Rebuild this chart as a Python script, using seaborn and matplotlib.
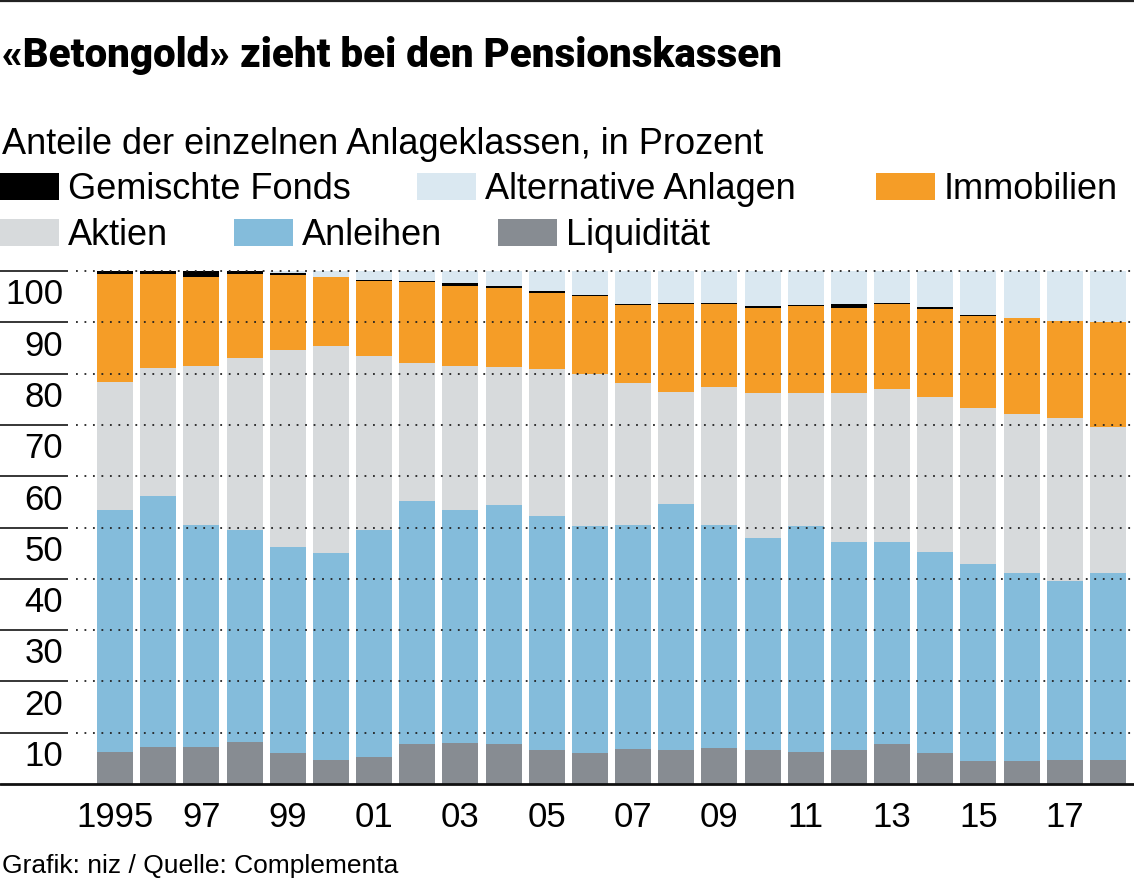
import numpy as np
import pandas as pd
import seaborn as sns
import matplotlib.pyplot as plt
from matplotlib.patches import Rectangle
from matplotlib.lines import Line2D

# Anteile in Prozent, 1995-2018
years = list(range(1995, 2019))
liquiditaet = [6.3, 7.3, 7.3, 8.1, 6.1, 4.7, 5.3, 7.7, 8.0, 7.7, 6.6, 6.1,
               6.9, 6.6, 7.1, 6.6, 6.3, 6.6, 7.7, 6.1, 4.4, 4.4, 4.6, 4.6]
anleihen = [47.1, 48.8, 43.2, 41.4, 40.1, 40.3, 44.2, 47.4, 45.4, 46.7, 45.7, 44.2,
            43.6, 48.0, 43.4, 41.4, 44.0, 40.6, 39.5, 39.1, 38.5, 36.7, 35.0, 36.5]
aktien = [25.0, 24.9, 31.0, 33.5, 38.4, 40.3, 34.0, 27.0, 28.1, 26.9, 28.5, 29.7,
          27.7, 21.8, 26.9, 28.2, 25.9, 29.0, 29.8, 30.2, 30.4, 31.0, 31.7, 28.4]
immobilien = [21.0, 18.4, 17.4, 16.4, 14.7, 13.5, 14.5, 15.8, 15.6, 15.3, 15.0, 15.1,
              15.1, 17.2, 16.2, 16.5, 17.0, 16.6, 16.6, 17.1, 18.0, 18.7, 19.0, 20.5]
gemischte_fonds = [0.6, 0.6, 1.1, 0.6, 0.3, 0.0, 0.2, 0.2, 0.5, 0.5, 0.25, 0.25,
                   0.3, 0.2, 0.2, 0.5, 0.1, 0.7, 0.2, 0.45, 0.2, 0.0, 0.0, 0.0]
alternative = [0.0, 0.0, 0.0, 0.0, 0.4, 1.2, 1.75, 1.9, 2.4, 2.9, 3.95, 4.65,
               6.4, 6.2, 6.2, 6.8, 6.7, 6.5, 6.2, 7.05, 8.5, 9.2, 9.7, 10.0]

tick_years = [1995, 1997, 1999, 2001, 2003, 2005, 2007, 2009, 2011, 2013, 2015, 2017]
tick_labels = ["1995", "97", "99", "01", "03", "05", "07", "09", "11", "13", "15", "17"]
y_ticks = [10, 20, 30, 40, 50, 60, 70, 80, 90, 100]

title = "«Betongold» zieht bei den Pensionskassen"
subtitle = "Anteile der einzelnen Anlageklassen, in Prozent"
source = "Grafik: niz / Quelle: Complementa"

colors = {
    "Liquidität": "#878c92",
    "Anleihen": "#84bcdb",
    "Aktien": "#d7dadc",
    "Immobilien": "#f59d27",
    "Gemischte Fonds": "#000000",
    "Alternative Anlagen": "#dae8f1",
}

df = pd.DataFrame({
    "Jahr": [str(y) for y in years],
    "Liquidität": liquiditaet,
    "Anleihen": anleihen,
    "Aktien": aktien,
    "Immobilien": immobilien,
    "Gemischte Fonds": gemischte_fonds,
    "Alternative Anlagen": alternative,
})
stack_order = ["Liquidität", "Anleihen", "Aktien", "Immobilien",
               "Gemischte Fonds", "Alternative Anlagen"]

W, H = 1134, 882
sns.set_theme(style="white")
plt.rcParams["font.family"] = ["Liberation Sans", "DejaVu Sans"]
plt.rcParams["text.color"] = "black"

fig = plt.figure(figsize=(W / 100, H / 100), dpi=100)
ax = fig.add_axes([0, 1 - 784 / H, 1, (784 - 271) / H])

bottom = np.zeros(len(years))
for name in stack_order:
    sns.barplot(data=df, x="Jahr", y=name, bottom=bottom.copy(), color=colors[name],
                saturation=1, width=0.834, linewidth=0, errorbar=None, ax=ax, zorder=2)
    bottom += df[name].to_numpy()

pitch = 43.17
ax.set_xlim(-115 / pitch, (W - 115) / pitch)
ax.set_ylim(0, 100)
for s in ax.spines.values():
    s.set_visible(False)
ax.set_xlabel("")
ax.set_ylabel("")
ax.set_yticks([])
ax.set_xticks([years.index(y) for y in tick_years])
ax.set_xticklabels(tick_labels, fontsize=25)
ax.tick_params(axis="x", length=0, pad=12, colors="black")

# gridlines: solid stub left, dotted across the bars
ytr = ax.get_yaxis_transform()
for v in y_ticks:
    ax.plot([0, 68 / W], [v, v], transform=ytr, color="black", lw=1.1,
            clip_on=False, zorder=3, solid_capstyle="butt")
    ax.plot([76 / W, 1], [v, v], transform=ytr, color="#222222", lw=1.3,
            linestyle=(0, (1, 3.7)), clip_on=False, zorder=4)
    ax.text(63 / W, v - 6.5, str(v), transform=ytr, ha="right", va="baseline",
            fontsize=25, color="black")
ax.plot([0, 1], [0, 0], transform=ytr, color="#111111", lw=2, clip_on=False, zorder=5)

# top rule
fig.add_artist(Line2D([0, 1], [1 - 1 / H, 1 - 1 / H], transform=fig.transFigure,
                      color="#222222", lw=1.6))

t = fig.text(2 / W, 1 - 67 / H, title, fontsize=28, fontweight="heavy",
             family=["Roboto", "DejaVu Sans"],
             va="baseline", ha="left", color="black")
fig.canvas.draw()
bb = t.get_window_extent(fig.canvas.get_renderer())
t.set_fontsize(28 * 778 / bb.width)

fig.text(2 / W, 1 - 154 / H, subtitle, fontsize=26, va="baseline", ha="left")

# legend, laid out like the original
legend_items = [
    ("Gemischte Fonds", 0, 173), ("Alternative Anlagen", 417, 173), ("Immobilien", 876, 173),
    ("Aktien", 0, 219), ("Anleihen", 234, 219), ("Liquidität", 498, 219),
]
for name, x0, y0 in legend_items:
    fig.add_artist(Rectangle((x0 / W, 1 - (y0 + 27) / H), 59 / W, 27 / H,
                             transform=fig.transFigure, facecolor=colors[name],
                             edgecolor="none"))
    fig.text((x0 + 68) / W, 1 - (y0 + 26) / H, name, fontsize=26,
             va="baseline", ha="left")

fig.text(2 / W, 1 - 873 / H, source, fontsize=19, va="baseline", ha="left")

fig.savefig("out.png", dpi=100)
